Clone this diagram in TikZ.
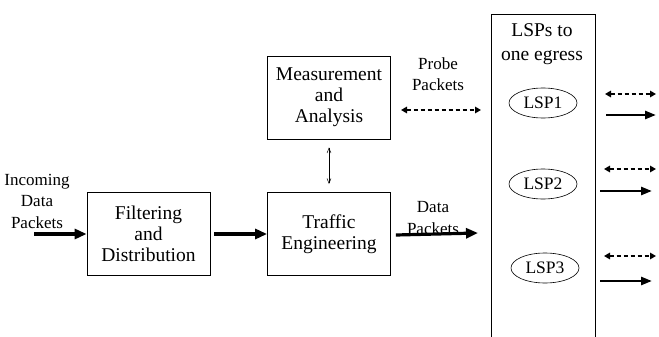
\documentclass[tikz,border=0pt]{standalone}
\usepackage{fontspec}
\setmainfont{Liberation Serif}
\usetikzlibrary{arrows.meta,shapes.geometric}
\begin{document}
\begin{tikzpicture}[x=1pt,y=-1pt,
  box/.style={draw,line width=0.8pt,minimum width=123pt,minimum height=83pt,align=center,
    font=\fontsize{19.5}{21}\selectfont,inner sep=0pt},
  lbl/.style={align=center,font=\fontsize{17}{21.5}\selectfont,inner sep=0pt},
  lsp/.style={draw,ellipse,line width=0.6pt,minimum width=68pt,minimum height=30pt,inner sep=0pt,
    font=\fontsize{17.5}{20}\selectfont},
  bigarrow/.style={line width=3.2pt,-{Triangle[length=12pt,width=10pt]}},
  medarrow/.style={line width=2.6pt,-{Triangle[length=11pt,width=8pt]}},
  dasharrow/.style={line width=2.3pt,dash pattern=on 4pt off 3pt,
    {Triangle[length=6pt,width=6.5pt]}-{Triangle[length=6pt,width=6.5pt]}},
  thinarrow/.style={line width=0.5pt,{Straight Barb[length=5pt,width=4pt]}-{Straight Barb[length=5pt,width=4pt]}}
]
\clip (0,0) rectangle (659,337);
\fill[white] (0,0) rectangle (659,337);

% boxes
\node[box] (filt) at (148.5,234) {Filtering\\and\\Distribution};
\node[box] (te) at (329,234) {Traffic\\Engineering};
\node[box] (meas) at (329,97.5) {Measurement\\and\\Analysis};
\node[draw,line width=0.6pt,minimum width=104pt,minimum height=340pt,inner sep=0pt] (lsps) at (543,184) {};

% texts
\node[lbl] (inc) at (37,201) {Incoming\\Data\\Packets};
\node[lbl] (probe) at (438,74) {Probe\\Packets};
\node[lbl] (data) at (433,218) {Data\\Packets};
\node[align=center,inner sep=0pt,font=\fontsize{19.5}{24}\selectfont] (title) at (542,44) {LSPs to\\one egress};

% LSPs
\node[lsp] (l1) at (543,103) {LSP1};
\node[lsp] (l2) at (543,184) {LSP2};
\node[lsp] (l3) at (545,268) {LSP3};

% coordinates for arrow ends
\coordinate (incS) at (34,234);
\coordinate (teE) at (478,233);
\coordinate (prS) at (401,110);
\coordinate (prE) at (481,110);
\coordinate (d1a) at (605,94);  \coordinate (d1b) at (656,94);
\coordinate (s1a) at (606,115); \coordinate (s1b) at (656,115);
\coordinate (d2a) at (604,169); \coordinate (d2b) at (656,169);
\coordinate (s2a) at (600,191); \coordinate (s2b) at (652,191);
\coordinate (d3a) at (604,256); \coordinate (d3b) at (656,256);
\coordinate (s3a) at (600,281); \coordinate (s3b) at (652,281);

% connectors
\draw[bigarrow] (incS) -- (filt.west);
\draw[bigarrow] ([xshift=4pt]filt.east) -- (te.west);
\draw[bigarrow] ([xshift=5pt,yshift=-1pt]te.east) -- (teE);
\draw[thinarrow] ([yshift=-8pt]meas.south) -- ([yshift=8pt]te.north);
\draw[dasharrow] (prS) -- (prE);

\draw[dasharrow] (d1a) -- (d1b);
\draw[medarrow] (s1a) -- (s1b);
\draw[dasharrow] (d2a) -- (d2b);
\draw[medarrow] (s2a) -- (s2b);
\draw[dasharrow] (d3a) -- (d3b);
\draw[medarrow] (s3a) -- (s3b);
\end{tikzpicture}
\end{document}
